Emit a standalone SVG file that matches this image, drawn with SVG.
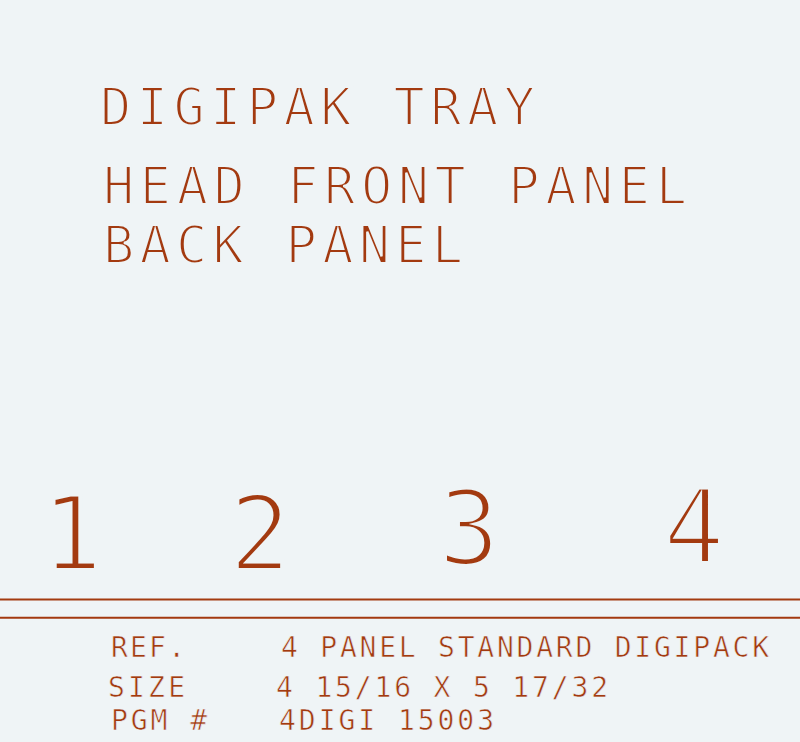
<svg xmlns="http://www.w3.org/2000/svg" width="800" height="742" viewBox="0 0 800 742">
<style>
.t{font-family:"DejaVu Sans Mono","Liberation Mono",monospace;fill:#a33a10;stroke:#eff4f6;paint-order:fill stroke;}
.h{font-size:52px;stroke-width:2.2;}
.n{font-size:103px;text-anchor:middle;stroke-width:4.2;}
.s{font-size:28px;stroke-width:0.6;}
.ln{stroke:#a33a10;stroke-width:2;fill:none;}
</style>
<rect x="0" y="0" width="800" height="742" fill="#eff4f6"/>
<g id="title">
<text class="t h" x="100" y="125" textLength="435" lengthAdjust="spacing">DIGIPAK TRAY</text>
<text class="t h" x="103" y="204" textLength="584" lengthAdjust="spacing">HEAD FRONT PANEL</text>
<text class="t h" x="103" y="263" textLength="360" lengthAdjust="spacing">BACK PANEL</text>
</g>
<g id="panel-numbers">
<text class="t n" x="72" y="570">1</text>
<text class="t n" x="260" y="570">2</text>
<text class="t n" x="469" y="565">3</text>
<text class="t n" x="694" y="563">4</text>
</g>
<g id="rules">
<line class="ln" x1="0" y1="599.5" x2="800" y2="599.5"/>
<line class="ln" x1="0" y1="617.7" x2="800" y2="617.7"/>
</g>
<g id="info">
<text class="t s" x="111" y="657" textLength="74" lengthAdjust="spacing">REF.</text>
<text class="t s" x="281" y="657" textLength="488" lengthAdjust="spacing">4 PANEL STANDARD DIGIPACK</text>
<text class="t s" x="108" y="697" textLength="77" lengthAdjust="spacing">SIZE</text>
<text class="t s" x="276" y="697" textLength="332" lengthAdjust="spacing">4 15/16 X 5 17/32</text>
<text class="t s" x="111" y="730" textLength="96" lengthAdjust="spacing">PGM #</text>
<text class="t s" x="279" y="730" textLength="215" lengthAdjust="spacing">4DIGI 15003</text>
</g>
</svg>
